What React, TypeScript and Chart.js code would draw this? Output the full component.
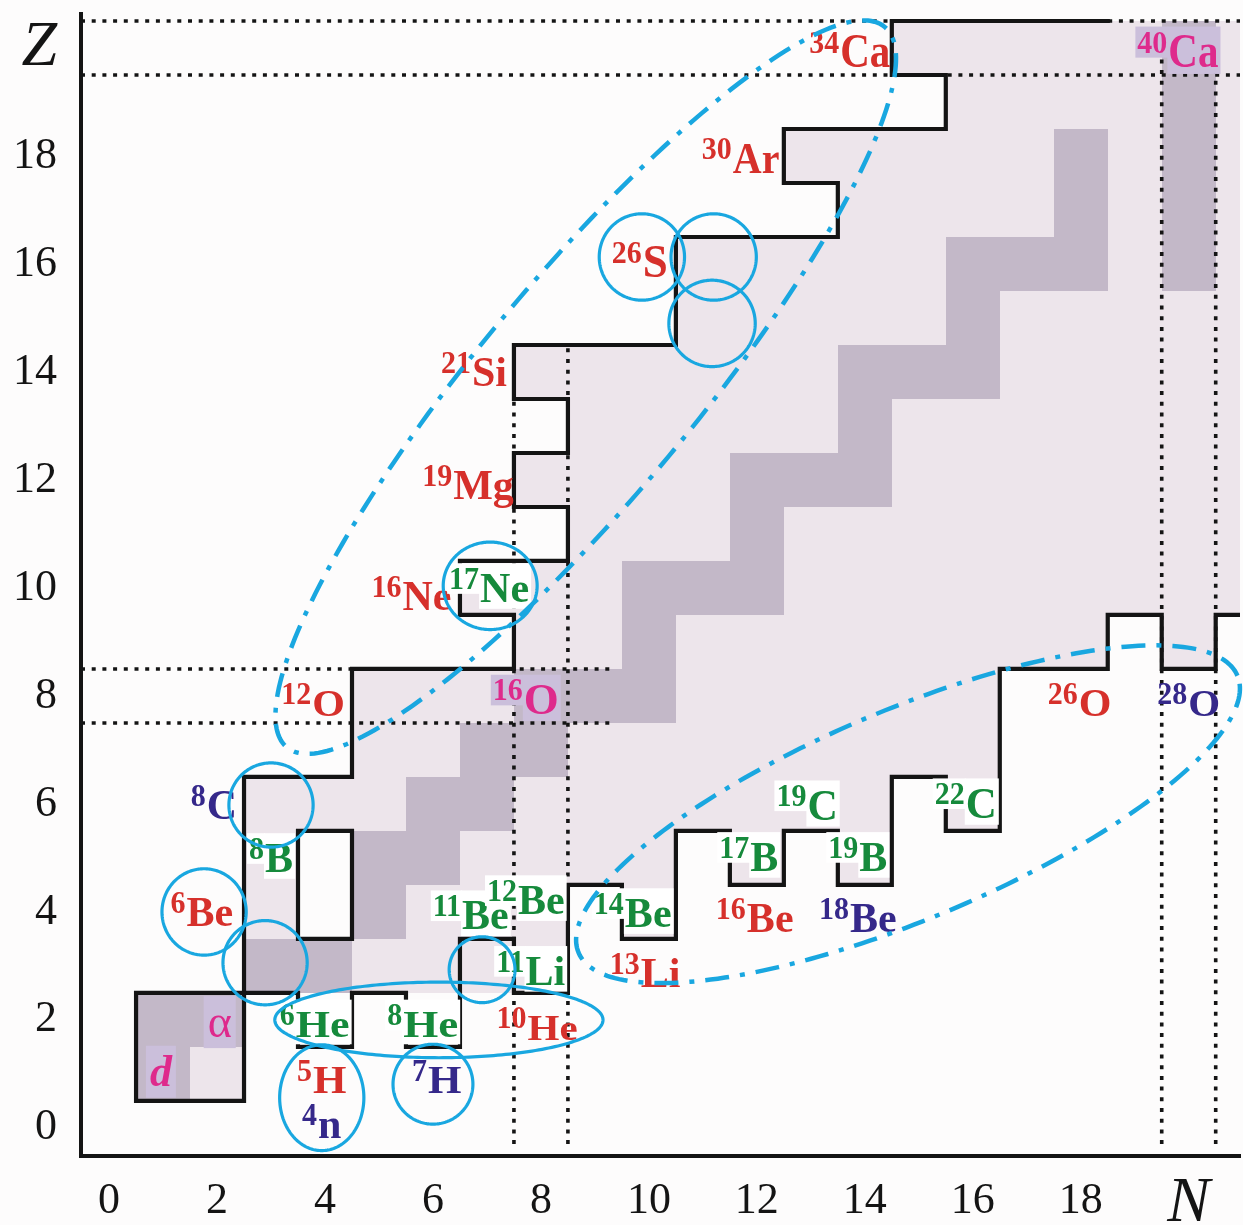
import React, { useEffect, useRef } from "react";
import { Chart, registerables } from "chart.js";

Chart.register(...registerables);

const SERIF = '"Liberation Serif", "Times New Roman", Times, serif';

// Axes: N = neutron number, Z = proton number
const N_TICKS = [0, 2, 4, 6, 8, 10, 12, 14, 16, 18, 20];
const Z_TICKS = [0, 2, 4, 6, 8, 10, 12, 14, 16, 18, 20];
const N_MIN = -0.52;
const N_MAX = 20.95;
const Z_MIN = -0.52;
const Z_MAX = 20.63;

// Observed nuclides, one row per Z: [Z, first N, last N]
const KNOWN_ROWS: [number, number, number][] = [
  [1, 1, 2], [2, 1, 2],
  [3, 3, 8],
  [4, 3, 3], [4, 5, 8], [4, 10, 10],
  [5, 3, 3], [5, 5, 10], [5, 12, 12], [5, 14, 14],
  [6, 3, 14], [6, 16, 16],
  [7, 5, 16], [8, 5, 16],
  [9, 8, 18], [9, 20, 20],
  [10, 7, 21], [11, 9, 21], [12, 8, 21], [13, 9, 21], [14, 8, 21],
  [15, 11, 21], [16, 11, 21], [17, 14, 21], [18, 13, 21], [19, 16, 21], [20, 15, 21],
];

// Stable nuclides [N, Z]
const STABLE: [number, number][] = [
  [1, 1], [1, 2], [2, 2], [3, 3], [4, 3], [5, 4], [5, 5], [6, 5], [6, 6], [7, 6], [7, 7],
  [8, 7], [8, 8], [9, 8], [10, 8], [10, 9], [10, 10], [11, 10], [12, 10], [12, 11], [12, 12],
  [13, 12], [14, 12], [14, 13], [14, 14], [15, 14], [16, 14], [16, 15], [16, 16], [17, 16],
  [18, 16], [18, 17], [18, 18], [20, 16], [20, 17], [20, 18], [20, 19], [20, 20],
];

// Step outlines on cell edges [N, Z]
const LIGHTEST_BOX: [number, number][] = [[0.5, 0.5], [2.5, 0.5], [2.5, 2.5], [0.5, 2.5], [0.5, 0.5]];
const PROTON_DRIP: [number, number][] = [
  [2.5, 2.5], [2.5, 6.5], [4.5, 6.5], [4.5, 8.5], [7.5, 8.5], [7.5, 9.5], [6.5, 9.5], [6.5, 10.5],
  [8.5, 10.5], [8.5, 11.5], [7.5, 11.5], [7.5, 12.5], [8.5, 12.5], [8.5, 13.5], [7.5, 13.5],
  [7.5, 14.5], [10.5, 14.5], [10.5, 16.5], [13.5, 16.5], [13.5, 17.5], [12.5, 17.5], [12.5, 18.5],
  [15.5, 18.5], [15.5, 19.5], [14.5, 19.5], [14.5, 20.5], [18.5, 20.5],
];
const NEUTRON_DRIP: [number, number][] = [
  [2.5, 2.5], [3.5, 2.5], [3.5, 1.5], [4.5, 1.5], [4.5, 2.5], [5.5, 2.5], [5.5, 1.5], [6.5, 1.5],
  [6.5, 3.5], [7.5, 3.5], [7.5, 2.5], [8.5, 2.5], [8.5, 4.5], [9.5, 4.5], [9.5, 3.5], [10.5, 3.5],
  [10.5, 5.5], [11.5, 5.5], [11.5, 4.5], [12.5, 4.5], [12.5, 5.5], [13.5, 5.5], [13.5, 4.5],
  [14.5, 4.5], [14.5, 6.5], [15.5, 6.5], [15.5, 5.5], [16.5, 5.5], [16.5, 8.5], [18.5, 8.5],
  [18.5, 9.5], [19.5, 9.5], [19.5, 8.5], [20.5, 8.5], [20.5, 9.5], [20.95, 9.5],
];
const BE8_B9_POCKET: [number, number][] = [[3.5, 3.5], [4.5, 3.5], [4.5, 5.5], [3.5, 5.5], [3.5, 3.5]];

// Magic-number guides: rows [Z, N from, N to], columns [N, Z from, Z to]
const MAGIC_ROWS: [number, number, number][] = [
  [7.5, N_MIN, 9.35], [8.5, N_MIN, 9.35], [19.5, N_MIN, N_MAX], [20.5, N_MIN, N_MAX],
];
const MAGIC_COLS: [number, number, number][] = [
  [7.5, -0.3, 14.5], [8.5, -0.3, 14.5], [19.5, -0.3, 20.5], [20.5, -0.3, 20.5],
];

type Group = "unbound" | "bound" | "predicted" | "magic";
type Nuclide = { a: string; s: string; n: number; z: number; g: Group };

const NUCLIDES: Nuclide[] = [
  { a: "40", s: "Ca", n: 19.8, z: 19.94, g: "magic" },
  { a: "34", s: "Ca", n: 13.72, z: 19.94, g: "unbound" },
  { a: "30", s: "Ar", n: 11.7, z: 17.96, g: "unbound" },
  { a: "26", s: "S", n: 9.83, z: 16.04, g: "unbound" },
  { a: "21", s: "Si", n: 6.76, z: 14.0, g: "unbound" },
  { a: "19", s: "Mg", n: 6.65, z: 11.9, g: "unbound" },
  { a: "16", s: "Ne", n: 5.6, z: 9.85, g: "unbound" },
  { a: "17", s: "Ne", n: 7.04, z: 10.0, g: "bound" },
  { a: "12", s: "O", n: 3.78, z: 7.87, g: "unbound" },
  { a: "16", s: "O", n: 7.72, z: 7.94, g: "magic" },
  { a: "8", s: "C", n: 1.94, z: 5.98, g: "predicted" },
  { a: "8", s: "B", n: 3.0, z: 5.0, g: "bound" },
  { a: "6", s: "Be", n: 1.72, z: 4.0, g: "unbound" },
  { a: "", s: "α", n: 2.05, z: 1.96, g: "magic" },
  { a: "", s: "d", n: 0.96, z: 1.04, g: "magic" },
  { a: "6", s: "He", n: 3.81, z: 1.91, g: "bound" },
  { a: "8", s: "He", n: 5.81, z: 1.91, g: "bound" },
  { a: "5", s: "H", n: 3.94, z: 0.89, g: "unbound" },
  { a: "4", s: "n", n: 3.94, z: 0.07, g: "predicted" },
  { a: "7", s: "H", n: 6.07, z: 0.89, g: "predicted" },
  { a: "10", s: "He", n: 7.93, z: 1.85, g: "unbound" },
  { a: "11", s: "Li", n: 7.81, z: 2.91, g: "bound" },
  { a: "11", s: "Be", n: 6.7, z: 3.94, g: "bound" },
  { a: "12", s: "Be", n: 7.72, z: 4.22, g: "bound" },
  { a: "14", s: "Be", n: 9.7, z: 3.98, g: "bound" },
  { a: "13", s: "Li", n: 9.93, z: 2.87, g: "unbound" },
  { a: "16", s: "Be", n: 11.96, z: 3.89, g: "unbound" },
  { a: "18", s: "Be", n: 13.87, z: 3.89, g: "predicted" },
  { a: "17", s: "B", n: 11.85, z: 5.02, g: "bound" },
  { a: "19", s: "B", n: 13.87, z: 5.02, g: "bound" },
  { a: "19", s: "C", n: 12.93, z: 5.98, g: "bound" },
  { a: "22", s: "C", n: 15.87, z: 6.02, g: "bound" },
  { a: "26", s: "O", n: 17.98, z: 7.87, g: "unbound" },
  { a: "28", s: "O", n: 20.0, z: 7.87, g: "predicted" },
];

// Highlight rings [N, Z, radius N, radius Z]
const RINGS: [number, number, number, number][] = [
  [9.87, 16.13, 0.79, 0.8], [11.2, 16.13, 0.79, 0.8], [11.17, 14.9, 0.8, 0.8],
  [7.06, 10.04, 0.87, 0.81], [3.0, 5.98, 0.78, 0.78], [1.76, 4.0, 0.78, 0.8],
  [2.89, 3.06, 0.78, 0.78], [3.94, 0.56, 0.78, 0.98], [6.0, 0.81, 0.74, 0.74],
  [6.91, 2.93, 0.61, 0.61], [6.11, 2.0, 3.04, 0.7],
];
// Proton-rich and neutron-rich regions [centre N, centre Z, semi-axis a, semi-axis b, tilt deg]
const REGIONS: [number, number, number, number, number][] = [
  [8.83, 13.72, 8.67, 2.0, 50.3],
  [14.8, 5.81, 6.62, 1.94, 22.8],
];

const INK = "#141414";
const KNOWN_FILL = "#ede5eb";
const STABLE_FILL = "#c3b8c8";
const RING = "#19a7e0";
const TEXT_INK: Record<Group, string> = {
  unbound: "#d6302b",
  bound: "#168a3c",
  predicted: "#35288a",
  magic: "#de2a8c",
};
const PLATE: Partial<Record<Group, string>> = { bound: "#ffffff", magic: "#cbbfdb" };

// Per-label type size [font px, vertical stretch]
const LABEL_TYPE: Record<string, [number, number]> = {
  "40Ca": [41, 1.16], "34Ca": [41, 1.16], "30Ar": [40, 1.12], "26S": [45, 1.04],
  "6He": [44, 0.86], "8He": [45, 0.84], "10He": [41, 0.87], "5H": [43, 0.92], "7H": [43, 0.92],
  "12O": [42, 0.92], "26O": [42, 0.95], "28O": [41, 0.95], "16O": [45, 1.0],
  "19C": [42, 1.05], "22C": [43, 1.05], "α": [46, 1.0], "d": [44, 1.0],
};
const MASS_PX = 30;
const MASS_STRETCH = 1.06;

function drawNuclide(ctx: CanvasRenderingContext2D, cx: number, cy: number, nuc: Nuclide) {
  const [S, k] = LABEL_TYPE[nuc.a + nuc.s] || [42, 1.0];
  const symFont =
    nuc.s === "d" ? `italic bold ${S}px ${SERIF}` : nuc.s === "α" ? `${S}px ${SERIF}` : `bold ${S}px ${SERIF}`;
  const M = MASS_PX;
  const massFont = `bold ${M}px ${SERIF}`;
  ctx.font = massFont;
  const mw = nuc.a ? ctx.measureText(nuc.a).width : 0;
  ctx.font = symFont;
  const sw = ctx.measureText(nuc.s).width;
  const gap = nuc.a ? 1 : 0;
  const left = cx - (mw + gap + sw) / 2;
  const cap = 0.66 * S * k;
  const base = cy + cap / 2;
  const mBase = base - 0.36 * cap - 3;
  const top = Math.min(mBase - 0.68 * M * MASS_STRETCH - 4, base - cap - 9);
  const plate = PLATE[nuc.g];
  if (plate) {
    ctx.fillStyle = plate;
    if (nuc.a) {
      ctx.fillRect(left - 2, top, mw + 3, mBase + 5 - top);
      ctx.fillRect(left + mw + gap - 1, top, sw + 3, base + 7 - top);
    } else {
      ctx.fillRect(left - 4, cy - 26, sw + 8, 52);
    }
  }
  ctx.fillStyle = TEXT_INK[nuc.g];
  ctx.textAlign = "left";
  ctx.textBaseline = "alphabetic";
  if (nuc.a) {
    ctx.save();
    ctx.translate(left, mBase);
    ctx.scale(1, MASS_STRETCH);
    ctx.font = massFont;
    ctx.fillText(nuc.a, 0, 0);
    ctx.restore();
  }
  ctx.save();
  ctx.translate(left + mw + gap, base);
  ctx.scale(1, k);
  ctx.font = symFont;
  ctx.fillText(nuc.s, 0, 0);
  ctx.restore();
}

function traceEllipse(chart: Chart, n: number, z: number, a: number, b: number, deg: number) {
  const { ctx } = chart;
  const xs = chart.scales.x;
  const ys = chart.scales.y;
  const th = (deg * Math.PI) / 180;
  const c = Math.cos(th);
  const s = Math.sin(th);
  ctx.beginPath();
  const steps = 240;
  for (let i = 0; i <= steps; i++) {
    const t = (i / steps) * Math.PI * 2;
    const u = a * Math.cos(t);
    const v = b * Math.sin(t);
    const px = xs.getPixelForValue(n + u * c - v * s);
    const py = ys.getPixelForValue(z + u * s + v * c);
    if (i === 0) ctx.moveTo(px, py);
    else ctx.lineTo(px, py);
  }
  ctx.closePath();
}

const nuclidePlugin = {
  id: "nuclideChart",
  beforeDatasetsDraw(chart: Chart) {
    const { ctx, chartArea: area } = chart;
    const xs = chart.scales.x;
    const ys = chart.scales.y;
    ctx.save();
    ctx.beginPath();
    ctx.rect(area.left, area.top, area.right - area.left, area.bottom - area.top);
    ctx.clip();
    const cell = (n0: number, n1: number, z0: number, z1: number, color: string) => {
      const L = Math.round(xs.getPixelForValue(n0));
      const R = Math.round(xs.getPixelForValue(n1));
      const T = Math.round(ys.getPixelForValue(z1));
      const B = Math.round(ys.getPixelForValue(z0));
      ctx.fillStyle = color;
      ctx.fillRect(L, T, R - L, B - T);
    };
    KNOWN_ROWS.forEach(([z, n0, n1]) => cell(n0 - 0.5, n1 + 0.5, z - 0.5, z + 0.5, KNOWN_FILL));
    STABLE.forEach(([n, z]) => cell(n - 0.5, n + 0.5, z - 0.5, z + 0.5, STABLE_FILL));
    ctx.restore();
  },
  afterDatasetsDraw(chart: Chart) {
    const { ctx } = chart;
    const xs = chart.scales.x;
    const ys = chart.scales.y;
    ctx.save();
    NUCLIDES.forEach((nuc) => drawNuclide(ctx, xs.getPixelForValue(nuc.n), ys.getPixelForValue(nuc.z), nuc));

    ctx.strokeStyle = RING;
    ctx.lineWidth = 3.2;
    ctx.setLineDash([]);
    RINGS.forEach(([n, z, rn, rz]) => {
      traceEllipse(chart, n, z, rn, rz, 0);
      ctx.stroke();
    });

    ctx.lineWidth = 4.5;
    ctx.lineCap = "butt";
    ctx.setLineDash([24, 11, 5, 11]);
    REGIONS.forEach(([n, z, a, b, deg]) => {
      traceEllipse(chart, n, z, a, b, deg);
      ctx.stroke();
    });
    ctx.restore();
  },
};

const pts = (list: [number, number][]) => list.map(([x, y]) => ({ x, y }));

function solid(list: [number, number][]) {
  return {
    data: pts(list),
    showLine: true,
    borderColor: INK,
    borderWidth: 4.2,
    pointRadius: 0,
    borderJoinStyle: "miter" as const,
    borderCapStyle: "square" as const,
    tension: 0,
    fill: false,
    order: 0,
  };
}

function dotted(list: [number, number][]) {
  return {
    data: pts(list),
    showLine: true,
    borderColor: INK,
    borderWidth: 3.6,
    borderDash: [4, 6.7],
    pointRadius: 0,
    borderCapStyle: "butt" as const,
    tension: 0,
    fill: false,
    order: 1,
  };
}

export default function App() {
  const canvasRef = useRef<HTMLCanvasElement | null>(null);

  useEffect(() => {
    const canvas = canvasRef.current;
    if (!canvas) return;

    const datasets = [
      solid(LIGHTEST_BOX),
      solid(PROTON_DRIP),
      solid(NEUTRON_DRIP),
      solid(BE8_B9_POCKET),
      ...MAGIC_ROWS.map(([z, n0, n1]) => dotted([[n0, z], [n1, z]])),
      ...MAGIC_COLS.map(([n, z0, z1]) => dotted([[n, z0], [n, z1]])),
    ];

    const tickFont = (name: number) => (c: any) =>
      c.tick && c.tick.value === name
        ? { family: SERIF, size: 64, style: "italic" as const, lineHeight: 0.9 }
        : { family: SERIF, size: 44, lineHeight: 1.2 };

    const chart = new Chart(canvas, {
      type: "scatter",
      data: { datasets: datasets as any },
      options: {
        responsive: false,
        animation: false,
        devicePixelRatio: 1,
        events: [],
        layout: { padding: { left: 0, right: 3, top: 14, bottom: 0 } },
        plugins: { legend: { display: false }, tooltip: { enabled: false } },
        scales: {
          x: {
            type: "linear",
            min: N_MIN,
            max: N_MAX,
            grid: { display: false, drawTicks: false },
            border: { display: true, color: INK, width: 4 },
            ticks: {
              autoSkip: false,
              maxRotation: 0,
              minRotation: 0,
              padding: 19,
              color: INK,
              font: tickFont(20) as any,
              callback: (v: any) => (v === 20 ? "N" : String(v)),
            },
            afterBuildTicks: (s: any) => {
              s.ticks = N_TICKS.map((value) => ({ value }));
            },
            afterFit: (s: any) => {
              s.height = 69;
              s.paddingLeft = 0;
              s.paddingRight = 0;
            },
          },
          y: {
            type: "linear",
            min: Z_MIN,
            max: Z_MAX,
            grid: { display: false, drawTicks: false },
            border: { display: true, color: INK, width: 4 },
            ticks: {
              autoSkip: false,
              padding: 24,
              color: INK,
              font: tickFont(20) as any,
              callback: (v: any) => (v === 20 ? "Z" : String(v)),
            },
            afterBuildTicks: (s: any) => {
              s.ticks = Z_TICKS.map((value) => ({ value }));
            },
            afterFit: (s: any) => {
              s.width = 81;
              s.paddingTop = 0;
              s.paddingBottom = 0;
            },
          },
        },
      },
      plugins: [nuclidePlugin as any],
    });

    return () => chart.destroy();
  }, []);

  return (
    <div
      style={{
        position: "fixed",
        left: 0,
        top: 0,
        width: 1243,
        height: 1225,
        background: "#fdfcfc",
        overflow: "hidden",
      }}
    >
      <canvas ref={canvasRef} width={1243} height={1225} style={{ display: "block" }} />
    </div>
  );
}
